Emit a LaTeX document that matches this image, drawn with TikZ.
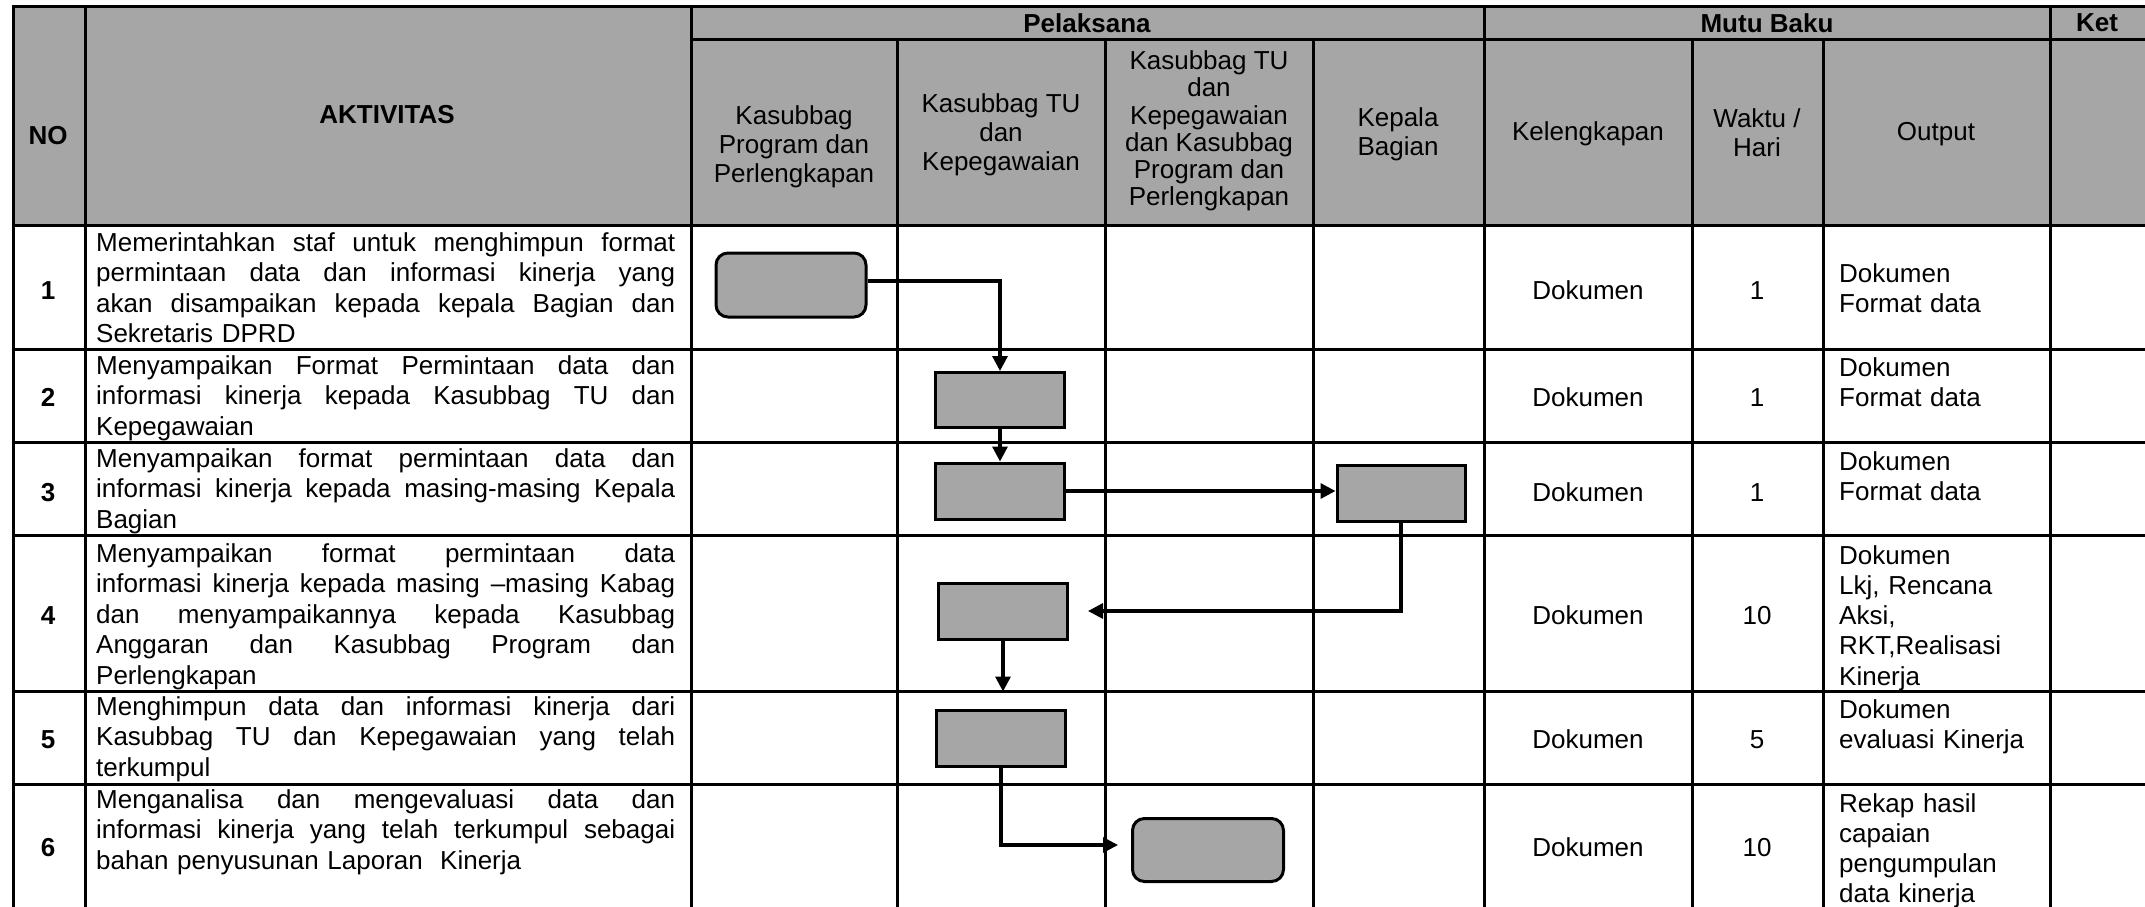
\documentclass[tikz,border=0pt]{standalone}
\usepackage{fontspec}
\setmainfont{Liberation Sans}
\usetikzlibrary{arrows.meta}
\definecolor{hdr}{HTML}{A6A6A6}
\newcommand\jline[1]{\makebox[579pt][s]{\spaceskip=0pt\xspaceskip=0pt\relax #1}}
\begin{document}
\begin{tikzpicture}[x=1pt,y=-1pt,
  grid/.style={line width=3pt},
  procbox/.style={draw=black, line width=3pt, fill=hdr, inner sep=0pt},
  conn/.style={line width=3.2pt, -{Triangle[length=15pt,width=15pt]}},
  hd/.style={font=\fontsize{26}{29}\selectfont, align=center, inner sep=0pt},
  hb/.style={font=\bfseries\fontsize{26}{29}\selectfont, inner sep=0pt},
  bodytxt/.style={font=\fontsize{26}{30.5}\selectfont, text width=579pt, align=left, inner sep=0pt, anchor=base west},
  cell/.style={font=\fontsize{26}{30}\selectfont, inner sep=0pt, anchor=base},
  numcell/.style={font=\bfseries\fontsize{26}{30}\selectfont, inner sep=0pt, anchor=base},
  outtxt/.style={font=\fontsize{26}{30.3}\selectfont, text width=205pt, align=left, inner sep=0pt, anchor=base west}
]
\useasboundingbox (0,0) rectangle (2145,907);
% header background
\fill[hdr] (13,7) rectangle (2145,225);
% grid
\draw[grid] (11.5,7) -- (2145,7);
\draw[grid] (691,40) -- (2145,40);
\foreach \y in {225,349,442,535,691,784} \draw[grid] (13,\y) -- (2145,\y);
\foreach \x in {13,85,691,1484,2050} \draw[grid] (\x,7) -- (\x,907);
\foreach \x in {897,1105,1313,1692,1823} \draw[grid] (\x,40) -- (\x,907);

% header texts
\node[hb] (hno) at (48,136) {NO};
\node[hb] (hakt) at (387,115) {AKTIVITAS};
\node[hb] (hpel) at (1087,23) {Pelaksana};
\node[hb] (hmutu) at (1767,23) {Mutu Baku};
\node[hb] (hket) at (2097,23) {Ket};
\node[hd] (hc1) at (794,147) {Kasubbag\\Program dan\\Perlengkapan};
\node[hd] (hc2) at (1001,135) {Kasubbag TU\\dan\\Kepegawaian};
\node[hd, font=\fontsize{26}{27.2}\selectfont] (hc3) at (1209,131) {Kasubbag TU\\dan\\Kepegawaian\\dan Kasubbag\\Program dan\\Perlengkapan};
\node[hd] (hc4) at (1398,134) {Kepala\\Bagian};
\node[hd] (hkel) at (1588,134) {Kelengkapan};
\node[hd] (hwak) at (1757,133) {Waktu /\\Hari};
\node[hd] (hout) at (1936,134) {Output};

% row numbers
\node[numcell] (n1) at (48,299) {1};
\node[numcell] (n2) at (48,406) {2};
\node[numcell] (n3) at (48,501) {3};
\node[numcell] (n4) at (48,624) {4};
\node[numcell] (n5) at (48,748) {5};
\node[numcell] (n6) at (48,856) {6};

% activities
\node[bodytxt] (t1) at (96,251) {\jline{Memerintahkan staf untuk menghimpun format}\\\jline{permintaan data dan informasi kinerja yang}\\\jline{akan disampaikan kepada kepala Bagian dan}\\Sekretaris DPRD};
\node[bodytxt] (t2) at (96,374) {\jline{Menyampaikan Format Permintaan data dan}\\\jline{informasi kinerja kepada Kasubbag TU dan}\\Kepegawaian};
\node[bodytxt] (t3) at (96,467) {\jline{Menyampaikan format permintaan data dan}\\\jline{informasi kinerja kepada masing-masing Kepala}\\Bagian};
\node[bodytxt] (t4) at (96,562) {\jline{Menyampaikan format permintaan data}\\\jline{informasi kinerja kepada masing –masing Kabag}\\\jline{dan menyampaikannya kepada Kasubbag}\\\jline{Anggaran dan Kasubbag Program dan}\\Perlengkapan};
\node[bodytxt] (t5) at (96,715) {\jline{Menghimpun data dan informasi kinerja dari}\\\jline{Kasubbag TU dan Kepegawaian yang telah}\\terkumpul};
\node[bodytxt] (t6) at (96,808) {\jline{Menganalisa dan mengevaluasi data dan}\\\jline{informasi kinerja yang telah terkumpul sebagai}\\bahan penyusunan Laporan\ \ Kinerja};

% kelengkapan
\node[cell] (k1) at (1588,299) {Dokumen};
\node[cell] (k2) at (1588,406) {Dokumen};
\node[cell] (k3) at (1588,501) {Dokumen};
\node[cell] (k4) at (1588,624) {Dokumen};
\node[cell] (k5) at (1588,748) {Dokumen};
\node[cell] (k6) at (1588,856) {Dokumen};
% waktu
\node[cell] (w1) at (1757,299) {1};
\node[cell] (w2) at (1757,406) {1};
\node[cell] (w3) at (1757,501) {1};
\node[cell] (w4) at (1757,624) {10};
\node[cell] (w5) at (1757,748) {5};
\node[cell] (w6) at (1757,856) {10};
% output
\node[outtxt] (o1) at (1839,282) {Dokumen\\Format data};
\node[outtxt] (o2) at (1839,376) {Dokumen\\Format data};
\node[outtxt] (o3) at (1839,470) {Dokumen\\Format data};
\node[outtxt] (o4) at (1839,564) {Dokumen\\Lkj, Rencana\\Aksi,\\RKT,Realisasi\\Kinerja};
\node[outtxt] (o5) at (1839,718) {Dokumen\\evaluasi Kinerja};
\node[outtxt] (o6) at (1839,812) {Rekap hasil\\capaian\\pengumpulan\\data kinerja};

% flow boxes
\node[procbox, rounded corners=12pt, minimum width=150pt, minimum height=64pt] (b1) at (791,285) {};
\node[procbox, minimum width=129pt, minimum height=55pt] (b2) at (1000,400) {};
\node[procbox, minimum width=129pt, minimum height=56pt] (b3) at (1000,491) {};
\node[procbox, minimum width=128pt, minimum height=56pt] (b4) at (1401,493) {};
\node[procbox, minimum width=129pt, minimum height=56pt] (b5) at (1003,611) {};
\node[procbox, minimum width=129pt, minimum height=56pt] (b6) at (1001,738) {};
\node[procbox, rounded corners=12pt, minimum width=151pt, minimum height=63pt] (b7) at (1208,850) {};

% connectors
\draw[conn] ([yshift=4pt]b1.east) -| (b2.north);
\draw[conn] (b2.south) -- (b3.north);
\draw[conn] (b3.east) -- (b3.east -| b4.west);
\draw[conn] (b4.south) |- ([xshift=19pt]b5.east);
\draw[conn] (b5.south) -- ([yshift=17pt]b5.south |- b6.north);
\draw[conn] (b6.south) |- ([xshift=-13pt,yshift=5pt]b7.west);
\end{tikzpicture}
\end{document}
